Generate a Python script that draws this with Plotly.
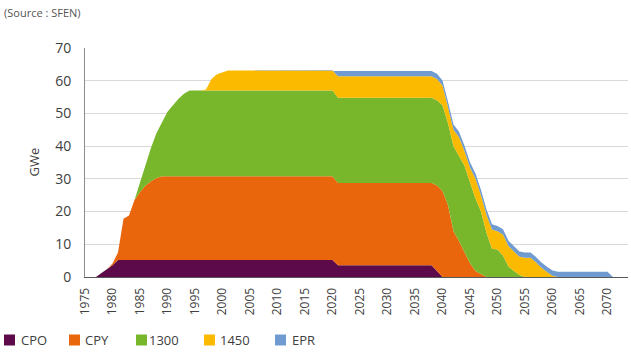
import plotly.graph_objects as go

years = list(range(1975, 2072))

series_names = ["CPO", "CPY", "1300", "1450", "EPR"]
series_colors = ["#5c0a4a", "#ea660c", "#78b72b", "#fbb900", "#6f9bd0"]

cpo = [
    0, 0, 0, 1.2, 2.4, 3.6, 5.2, 5.2, 5.2, 5.2,            # 1975-1984
    5.2, 5.2, 5.2, 5.2, 5.2, 5.2, 5.2, 5.2, 5.2, 5.2,      # 1985-1994
    5.2, 5.2, 5.2, 5.2, 5.2, 5.2, 5.2, 5.2, 5.2, 5.2,      # 1995-2004
    5.2, 5.2, 5.2, 5.2, 5.2, 5.2, 5.2, 5.2, 5.2, 5.2,      # 2005-2014
    5.2, 5.2, 5.2, 5.2, 5.2, 5.2, 3.6, 3.6, 3.6, 3.6,      # 2015-2024
    3.6, 3.6, 3.6, 3.6, 3.6, 3.6, 3.6, 3.6, 3.6, 3.6,      # 2025-2034
    3.6, 3.6, 3.6, 3.6, 1.8, 0, 0, 0, 0, 0,                # 2035-2044
    0, 0, 0, 0, 0, 0, 0, 0, 0, 0,                          # 2045-2054
    0, 0, 0, 0, 0, 0, 0, 0, 0, 0,                          # 2055-2064
    0, 0, 0, 0, 0, 0, 0,                                   # 2065-2071
]

cpy = [
    0, 0, 0, 0, 0, 0.5, 2.3, 12.6, 13.6, 18.3,
    20.8, 22.8, 24.1, 25.1, 25.6, 25.6, 25.6, 25.6, 25.6, 25.6,
    25.6, 25.6, 25.6, 25.6, 25.6, 25.6, 25.6, 25.6, 25.6, 25.6,
    25.6, 25.6, 25.6, 25.6, 25.6, 25.6, 25.6, 25.6, 25.6, 25.6,
    25.6, 25.6, 25.6, 25.6, 25.6, 25.6, 25.1, 25.1, 25.1, 25.1,
    25.1, 25.1, 25.1, 25.1, 25.1, 25.1, 25.1, 25.1, 25.1, 25.1,
    25.1, 25.1, 25.1, 25.1, 26.2, 26.3, 22.0, 14.0, 11.0, 7.8,
    4.2, 1.8, 0.8, 0, 0, 0, 0, 0, 0, 0,
    0, 0, 0, 0, 0, 0, 0, 0, 0, 0,
    0, 0, 0, 0, 0, 0, 0,
]

s1300 = [
    0, 0, 0, 0, 0, 0, 0, 0, 0, 0,
    3.0, 6.5, 10.2, 13.7, 16.7, 19.7, 21.7, 23.7, 25.2, 26.2,
    26.2, 26.2, 26.2, 26.2, 26.2, 26.2, 26.2, 26.2, 26.2, 26.2,
    26.2, 26.2, 26.2, 26.2, 26.2, 26.2, 26.2, 26.2, 26.2, 26.2,
    26.2, 26.2, 26.2, 26.2, 26.2, 26.2, 26.1, 26.1, 26.1, 26.1,
    26.1, 26.1, 26.1, 26.1, 26.1, 26.1, 26.1, 26.1, 26.1, 26.1,
    26.1, 26.1, 26.1, 26.1, 26.0, 26.2, 25.0, 26.0, 26.0, 26.2,
    24.8, 22.2, 19.2, 13.5, 8.6, 8.4, 6.5, 3.2, 1.8, 0.6,
    0, 0, 0, 0, 0, 0, 0, 0, 0, 0,
    0, 0, 0, 0, 0, 0, 0,
]

s1450 = [
    0, 0, 0, 0, 0, 0, 0, 0, 0, 0,
    0, 0, 0, 0, 0, 0, 0, 0, 0, 0,
    0, 0, 0.3, 3.5, 5.0, 5.6, 6.1, 6.1, 6.1, 6.1,
    6.1, 6.1, 6.1, 6.1, 6.1, 6.1, 6.1, 6.1, 6.1, 6.1,
    6.1, 6.1, 6.1, 6.1, 6.1, 6.1, 6.6, 6.6, 6.6, 6.6,
    6.6, 6.6, 6.6, 6.6, 6.6, 6.6, 6.6, 6.6, 6.6, 6.6,
    6.6, 6.6, 6.6, 6.6, 6.5, 6.0, 5.0, 5.0, 5.8, 4.5,
    4.5, 6.0, 5.0, 5.5, 5.9, 5.6, 6.5, 6.3, 6.0, 5.6,
    5.9, 5.9, 4.5, 2.8, 1.5, 0.4, 0, 0, 0, 0,
    0, 0, 0, 0, 0, 0, 0,
]

epr = [
    0, 0, 0, 0, 0, 0, 0, 0, 0, 0,
    0, 0, 0, 0, 0, 0, 0, 0, 0, 0,
    0, 0, 0, 0, 0, 0, 0, 0, 0, 0,
    0, 0, 0, 0, 0, 0, 0, 0, 0, 0,
    0, 0, 0, 0, 0, 0, 1.6, 1.6, 1.6, 1.6,
    1.6, 1.6, 1.6, 1.6, 1.6, 1.6, 1.6, 1.6, 1.6, 1.6,
    1.6, 1.6, 1.6, 1.6, 1.6, 1.6, 1.6, 1.6, 1.6, 1.6,
    1.6, 1.6, 1.6, 1.6, 1.6, 1.6, 1.6, 1.6, 1.6, 1.6,
    1.6, 1.6, 1.6, 1.6, 1.6, 1.6, 1.6, 1.6, 1.6, 1.6,
    1.6, 1.6, 1.6, 1.6, 1.6, 1.6, 0,
]

x_ticks = list(range(1975, 2071, 5))
y_ticks = [0, 10, 20, 30, 40, 50, 60, 70]

W, H = 631, 353
ML, MR, MT, MB = 85, 3, 48, 76
PW, PH = W - ML - MR, H - MT - MB

FONT = "Open Sans"
TXT = "#404040"

fig = go.Figure()
for name, color, vals in zip(series_names, series_colors, [cpo, cpy, s1300, s1450, epr]):
    fig.add_trace(go.Scatter(
        x=years, y=vals, name=name, mode="lines",
        stackgroup="one", line=dict(width=0, color=color),
        fillcolor=color, showlegend=False, hoverinfo="x+y+name",
    ))

def px_x(p):
    return (p - ML) / PW

def px_y(p):
    return (H - MB - p) / PH

# manual legend (square swatch + label)
legend_sq_x = [4, 69, 136, 204, 275]
legend_tx_x = [19, 83, 147, 218, 290]
shapes = []
annotations = []
for name, color, sx, tx in zip(series_names, series_colors, legend_sq_x, legend_tx_x):
    shapes.append(dict(type="rect", xref="paper", yref="paper",
                       x0=px_x(sx), x1=px_x(sx + 11), y0=px_y(345.5), y1=px_y(334.5),
                       fillcolor=color, line=dict(width=0)))
    annotations.append(dict(text=name, xref="paper", yref="paper",
                            x=px_x(tx), y=px_y(340), xanchor="left", yanchor="middle",
                            showarrow=False, font=dict(family=FONT, size=13, color=TXT)))

annotations.append(dict(text="(Source : SFEN)", xref="paper", yref="paper",
                        x=px_x(2), y=px_y(13), xanchor="left", yanchor="middle",
                        showarrow=False, font=dict(family=FONT, size=11, color="#555555")))
annotations.append(dict(text="GWe", xref="paper", yref="paper",
                        x=px_x(33), y=0.5, xanchor="center", yanchor="middle",
                        textangle=-90, showarrow=False,
                        font=dict(family=FONT, size=13, color=TXT)))

fig.update_layout(
    width=W, height=H,
    margin=dict(l=ML, r=MR, t=MT, b=MB),
    paper_bgcolor="white", plot_bgcolor="white",
    font=dict(family=FONT, color=TXT),
    shapes=shapes, annotations=annotations,
    showlegend=False,
)
fig.update_xaxes(
    range=[1975, 1975 + PW / 5.5],
    tickvals=x_ticks, ticktext=[str(v) for v in x_ticks],
    tickangle=-90, tickfont=dict(family=FONT, size=12, color=TXT),
    ticks="outside", ticklen=5, tickcolor="rgba(0,0,0,0)",
    showgrid=False, zeroline=False,
    showline=True, linecolor="#595959", linewidth=1,
)
fig.update_yaxes(
    range=[0, 70], tickvals=y_ticks,
    tickfont=dict(family=FONT, size=14, color=TXT),
    ticks="outside", ticklen=10, tickcolor="rgba(0,0,0,0)",
    showgrid=True, gridcolor="#d9d9d9", gridwidth=1,
    zeroline=False,
    showline=True, linecolor="#8c8c8c", linewidth=1,
)

fig.write_html("out.html")
